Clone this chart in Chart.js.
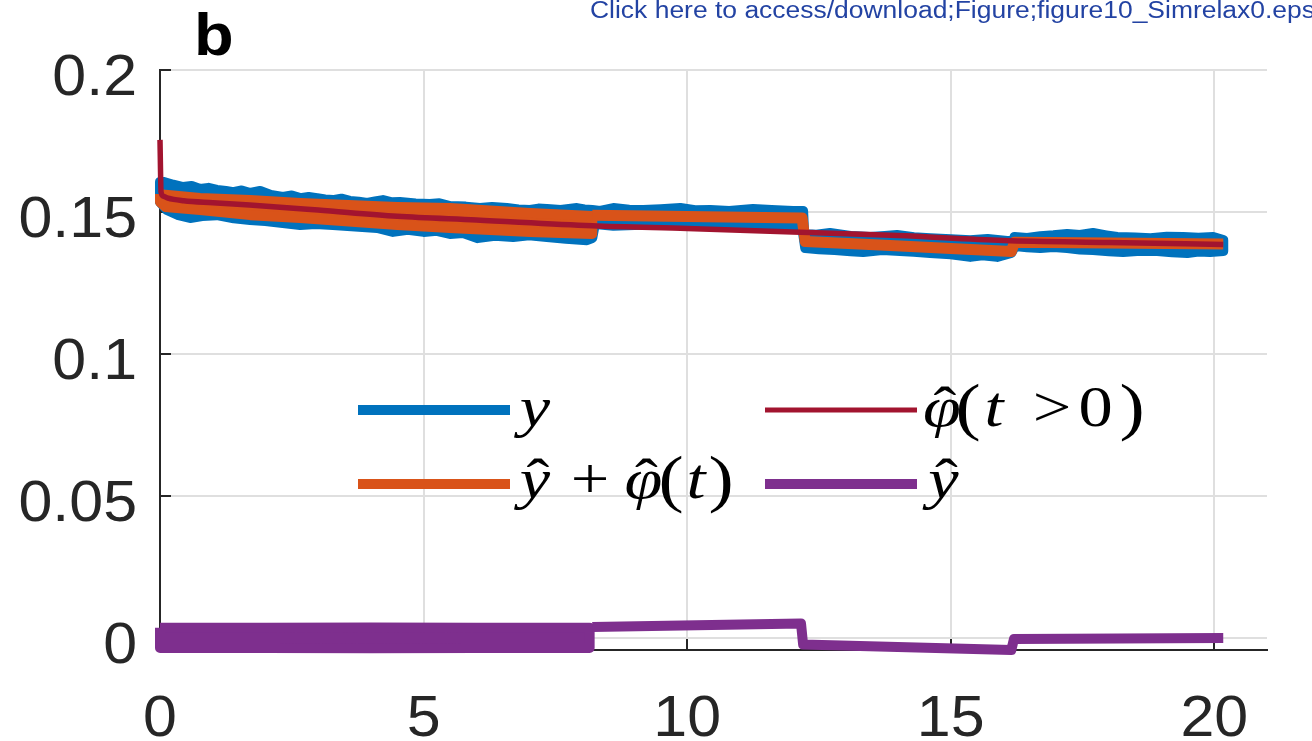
<!DOCTYPE html>
<html><head><meta charset="utf-8">
<script src="https://cdn.jsdelivr.net/npm/chart.js@4/dist/chart.umd.min.js"></script>
<style>html,body{margin:0;padding:0;background:#fff;}canvas{display:block;}</style>
</head><body>
<canvas id="c" width="1312" height="741"></canvas>
<script>
// ---------- data ----------
const xTicks = [0, 5, 10, 15, 20];
const xTickLabels = ['0', '5', '10', '15', '20'];
const yTicks = [0, 0.05, 0.1, 0.15, 0.2];
const yTickLabels = ['0', '0.05', '0.1', '0.15', '0.2'];

// measured y: upper and lower edge (line centre) of the noisy band
const tBlueUp = [0, 0.06, 0.25, 0.44, 0.6, 0.76, 0.92, 1.08, 1.25, 1.39, 1.55, 1.71, 1.9, 2.1, 2.33, 2.5, 2.66, 2.82, 2.98, 3.13, 3.28, 3.44, 3.6, 3.77, 3.93, 4.08, 4.23, 4.4, 4.55, 4.85, 5.12, 5.3, 5.5, 5.8, 6.07, 6.3, 6.58, 6.8, 7.02, 7.18, 7.34, 7.6, 7.91, 8.05, 8.2,
  8.35, 8.6, 8.9, 9.17, 9.5, 9.87, 10.15, 10.44, 10.8, 11.25, 11.6, 12.01, 12.2,
  12.22, 12.45, 12.71, 13.1, 13.47, 13.75, 13.98, 14.3, 14.61, 15.0, 15.37, 15.7, 16.07, 16.19,
  16.21, 16.45, 16.7, 16.95, 17.21, 17.45, 17.7, 17.95, 18.16, 18.5, 18.79, 19.1, 19.41, 19.7, 19.98, 20.17];
const vBlueUp = [0.1606, 0.1606, 0.1596, 0.1588, 0.1592, 0.1581, 0.1585, 0.1578, 0.1574, 0.1570, 0.1576, 0.1567, 0.1574, 0.1560, 0.1553, 0.1558, 0.1549, 0.1553, 0.1549, 0.1544, 0.1542, 0.1547, 0.1539, 0.1536, 0.1532, 0.1537, 0.1542, 0.1534, 0.1535, 0.1530, 0.1528, 0.1531, 0.1521, 0.1519, 0.1514, 0.1518, 0.1514, 0.1509, 0.1507, 0.1512, 0.1511, 0.1507, 0.1514, 0.1509, 0.1507,
  0.1504, 0.1514, 0.1508, 0.1507, 0.1510, 0.1514, 0.1506, 0.1507, 0.1504, 0.1511, 0.1507, 0.1504, 0.1504,
  0.1423, 0.1420, 0.1426, 0.1416, 0.1412, 0.1416, 0.1419, 0.1411, 0.1408, 0.1404, 0.1401, 0.1405, 0.1398, 0.1398,
  0.1412, 0.1409, 0.1415, 0.1418, 0.1423, 0.1419, 0.1426, 0.1418, 0.1412, 0.1410, 0.1408, 0.1413, 0.1412, 0.1409, 0.1412, 0.1401];
const tBlueLo = [0, 0.13, 0.35, 0.57, 0.8, 1.08, 1.4, 1.71, 2.0, 2.33, 2.66, 2.95, 3.28, 3.7, 4.12, 4.42, 4.7, 5.0, 5.25, 5.5, 5.75, 6.02, 6.35, 6.7, 7.0, 7.34, 7.7, 8.1, 8.2,
  8.25, 8.6, 9.0, 9.4, 9.87, 10.3, 10.76, 11.2, 11.71, 12.18,
  12.24, 12.5, 12.8, 13.1, 13.34, 13.7, 14.04, 14.3, 14.61, 15.0, 15.37, 15.6, 15.88, 16.15,
  16.22, 16.45, 16.7, 16.95, 17.21, 17.45, 17.7, 18.0, 18.27, 18.6, 18.92, 19.2, 19.49, 19.7, 19.92, 20.17];
const vBlueLo = [0.1535, 0.1507, 0.1489, 0.1479, 0.1486, 0.1489, 0.1478, 0.1472, 0.1468, 0.1461, 0.1454, 0.1458, 0.1454, 0.1449, 0.1444, 0.1430, 0.1437, 0.1430, 0.1434, 0.1423, 0.1426, 0.1408, 0.1416, 0.1412, 0.1418, 0.1412, 0.1406, 0.1401, 0.1408,
  0.1458, 0.1452, 0.1454, 0.1458, 0.1461, 0.1455, 0.1451, 0.1456, 0.1454, 0.1451,
  0.1373, 0.1369, 0.1366, 0.1362, 0.1359, 0.1366, 0.1363, 0.1360, 0.1356, 0.1351, 0.1342, 0.1348, 0.1342, 0.1356,
  0.1380, 0.1376, 0.1373, 0.1377, 0.1373, 0.1368, 0.1366, 0.1362, 0.1359, 0.1364, 0.1363, 0.1358, 0.1356, 0.1361, 0.1359, 0.1363];

// y-hat + phi-hat(t): oscillating band in the first stage, then a line
const tOrangeBandUp = [0, 0.76, 1.71, 2.66, 4.5, 5.5, 7.02, 8.2];
const vOrangeBandUp = [0.1563, 0.1549, 0.1542, 0.1532, 0.1518, 0.1514, 0.1497, 0.1486];
const tOrangeBandLo = [0, 0.1, 0.76, 1.71, 2.66, 4.5, 5.5, 7.02, 8.2];
const vOrangeBandLo = [0.1535, 0.1518, 0.1507, 0.1489, 0.1479, 0.1454, 0.1444, 0.1430, 0.1423];
const tOrange = [8.2, 10, 12.18, 12.24, 13.66, 16.15, 16.21, 18, 20.17];
const vOrange = [0.1489, 0.1484, 0.1479, 0.1396, 0.1384, 0.1361, 0.1394, 0.1391, 0.1387];

// phi-hat(t > 0)
const tRed = [0, 0.02, 0.06, 0.15, 0.45, 1, 1.7, 3, 4.5, 6, 8.2, 10, 12, 14, 16, 18, 20.17];
const vRed = [0.1754, 0.1570, 0.1556, 0.1549, 0.1540, 0.1533, 0.1525, 0.1507, 0.1485, 0.1472, 0.1452, 0.1442, 0.1430, 0.1417, 0.1400, 0.1393, 0.1386];

// y-hat: oscillating band, then a line
const tPurpleBandUp = [0, 2, 4, 6, 8.15];
const vPurpleBandUp = [0.0036, 0.0036, 0.0037, 0.0036, 0.0036];
const tPurpleBandLo = [0, 2, 4, 6, 8.15];
const vPurpleBandLo = [-0.0035, -0.0035, -0.0036, -0.0035, -0.0035];
const tPurple = [8.2, 12.16, 12.2, 16.15, 16.2, 20.17];
const vPurple = [0.0039, 0.0051, -0.0023, -0.0042, -0.0003, 0.0000];

const headerText = 'Click here to access/download;Figure;figure10_Simrelax0.eps';
const panelLabel = 'b';

// ---------- styling ----------
const BLUE = '#0072BD', ORANGE = '#D95319', RED = '#A2142F', PURPLE = '#7E2F8E';
const AXIS = '#262626', GRID = '#dfdfdf';
const SX = 1.05, SXL = 1.2;

const pts = (t, v) => t.map((x, i) => ({x: x, y: v[i]}));
function poly(tu, vu, tl, vl) {
  const up = pts(tu, vu), lo = pts(tl, vl).reverse();
  return up.concat(lo, [up[0]]);
}

function stretchText(ctx, txt, x, y, align, sx) {
  ctx.save(); ctx.translate(x, y); ctx.scale(sx, 1);
  ctx.textAlign = align; ctx.fillText(txt, 0, 0); ctx.restore();
}

const IT = 'italic 57px "Liberation Serif"', UP = '57px "Liberation Serif"', PAR = '63px "Liberation Serif"';
function g(ctx, ch, cx, base, font, hat) {
  ctx.font = font;
  stretchText(ctx, ch, cx, base + (font === PAR ? 2 : 0), 'center', SXL);
  if (hat) { ctx.font = UP; stretchText(ctx, '\u02C6', cx + 3, base, 'center', SXL); }
}

const decor = {
  id: 'decor',
  beforeDatasetsDraw(chart) {
    const {ctx, chartArea: a, scales: {x, y}} = chart;
    ctx.save();
    ctx.strokeStyle = AXIS; ctx.lineWidth = 2;
    ctx.beginPath();
    yTicks.forEach(v => { const py = Math.round(y.getPixelForValue(v)); ctx.moveTo(a.left, py); ctx.lineTo(a.left + 11, py); });
    xTicks.forEach(v => { const px = Math.round(x.getPixelForValue(v)); ctx.moveTo(px, a.bottom); ctx.lineTo(px, a.bottom - 11); });
    ctx.stroke();
    ctx.restore();
  },
  afterDraw(chart) {
    const {ctx, chartArea: a, scales: {x, y}} = chart;
    ctx.save();
    ctx.fillStyle = AXIS;
    ctx.textBaseline = 'alphabetic';
    ctx.font = '58px "Liberation Sans"';
    yTicks.forEach((v, i) => stretchText(ctx, yTickLabels[i], a.left - 23, y.getPixelForValue(v) + 25, 'right', SX));
    xTicks.forEach((v, i) => stretchText(ctx, xTickLabels[i], x.getPixelForValue(v), 736, 'center', SX));
    // panel label
    ctx.fillStyle = '#000';
    ctx.font = 'bold 59px "Liberation Sans"';
    stretchText(ctx, panelLabel, 194, 55, 'left', 1.1);
    // header
    ctx.fillStyle = '#2343a3';
    ctx.font = '23px "Liberation Sans"';
    const w = ctx.measureText(headerText).width;
    stretchText(ctx, headerText, 590, 18, 'left', (1315 - 590) / w);
    // legend lines
    ctx.lineCap = 'butt';
    [[BLUE, 10, 358, 410], [ORANGE, 10, 358, 484], [RED, 5, 765, 410], [PURPLE, 10, 765, 484]].forEach(([c, lw, x0, yy]) => {
      ctx.strokeStyle = c; ctx.lineWidth = lw;
      ctx.beginPath(); ctx.moveTo(x0, yy); ctx.lineTo(x0 + 152, yy); ctx.stroke();
    });
    // legend texts
    ctx.fillStyle = '#000';
    const b1 = 426, b2 = 498;
    g(ctx, 'y', 535, b1, IT, false);
    g(ctx, '\u03C6', 942, b1, IT, true);
    g(ctx, '(', 968, b1, PAR);
    g(ctx, 't', 994, b1, IT);
    g(ctx, '>', 1052, b1, UP);
    g(ctx, '0', 1095.5, b1, UP);
    g(ctx, ')', 1132, b1, PAR);
    g(ctx, 'y', 535, b2, IT, true);
    g(ctx, '+', 590, b2, UP);
    g(ctx, '\u03C6', 643.5, b2, IT, true);
    g(ctx, '(', 671, b2, PAR);
    g(ctx, 't', 696, b2, IT);
    g(ctx, ')', 721, b2, PAR);
    g(ctx, 'y', 943.5, b2, IT, true);
    ctx.restore();
  }
};

const common = {pointRadius: 0, clip: false, tension: 0};
new Chart(document.getElementById('c'), {
  type: 'line',
  data: {
    datasets: [
      Object.assign({label: 'y', data: poly(tBlueUp, vBlueUp, tBlueLo, vBlueLo), borderColor: BLUE, backgroundColor: BLUE,
        borderWidth: 10, fill: 'shape', borderJoinStyle: 'round', borderCapStyle: 'round', order: 5}, common),
      Object.assign({label: 'y-hat + phi-hat band', data: poly(tOrangeBandUp, vOrangeBandUp, tOrangeBandLo, vOrangeBandLo), borderColor: ORANGE, backgroundColor: ORANGE,
        borderWidth: 10, fill: 'shape', borderJoinStyle: 'round', order: 4}, common),
      Object.assign({label: 'y-hat + phi-hat', data: pts(tOrange, vOrange), borderColor: ORANGE, backgroundColor: ORANGE,
        borderWidth: 11, fill: false, borderJoinStyle: 'round', borderCapStyle: 'butt', order: 3}, common),
      Object.assign({label: 'phi-hat(t>0)', data: pts(tRed, vRed), borderColor: RED, backgroundColor: RED,
        borderWidth: 5.5, fill: false, borderJoinStyle: 'round', order: 2}, common, {cubicInterpolationMode: 'monotone'}),
      Object.assign({label: 'y-hat band', data: poly(tPurpleBandUp, vPurpleBandUp, tPurpleBandLo, vPurpleBandLo), borderColor: PURPLE, backgroundColor: PURPLE,
        borderWidth: 10, fill: 'shape', borderJoinStyle: 'round', order: 1}, common),
      Object.assign({label: 'y-hat', data: pts(tPurple, vPurple), borderColor: PURPLE, backgroundColor: PURPLE,
        borderWidth: 10, fill: false, borderJoinStyle: 'round', borderCapStyle: 'butt', order: 0}, common)
    ]
  },
  options: {
    responsive: false, animation: false, devicePixelRatio: 1,
    layout: {padding: {left: 0, top: 70, right: 45, bottom: 0}},
    plugins: {legend: {display: false}, tooltip: {enabled: false}, title: {display: false}},
    scales: {
      x: {type: 'linear', min: 0, max: 21,
        afterBuildTicks: s => { s.ticks = xTicks.map(v => ({value: v})); },
        afterFit: s => { s.height = 91; },
        ticks: {display: false},
        grid: {color: GRID, lineWidth: 2, drawTicks: false},
        border: {display: true, color: AXIS, width: 2}},
      y: {type: 'linear', min: -0.0042, max: 0.2,
        afterBuildTicks: s => { s.ticks = yTicks.map(v => ({value: v})); },
        afterFit: s => { s.width = 160; },
        ticks: {display: false},
        grid: {color: GRID, lineWidth: 2, drawTicks: false},
        border: {display: true, color: AXIS, width: 2}}
    }
  },
  plugins: [decor]
});
</script>
</body></html>
